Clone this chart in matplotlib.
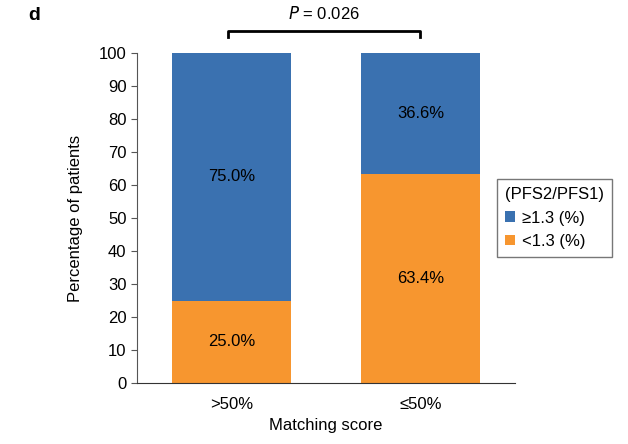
import matplotlib.pyplot as plt

plt.rcParams['font.family'] = ['Liberation Sans', 'DejaVu Sans']

groups = ['>50%', '≤50%']
high = [75.0, 36.6]   # PFS2/PFS1 >= 1.3
low = [25.0, 63.4]    # PFS2/PFS1 < 1.3
series_names = ['≥1.3 (%)', '<1.3 (%)']
p_text = '$\\it{P}$ = 0.026'

blue = '#3a71b0'
orange = '#f7962f'
fs = 12

fig = plt.figure(figsize=(6.28, 4.44), dpi=100)
ax = fig.add_axes([0.218, 0.137, 0.602, 0.744])

x = list(range(len(groups)))
width = 0.63
b_low = ax.bar(x, low, width, color=orange, label=series_names[1])
b_high = ax.bar(x, high, width, bottom=low, color=blue, label=series_names[0])

for i in x:
    ax.text(i, low[i] / 2, f'{low[i]:.1f}%', ha='center', va='center', fontsize=fs)
    ax.text(i, low[i] + high[i] / 2, f'{high[i]:.1f}%', ha='center', va='center', fontsize=fs)

ax.set_xlim(-0.5, 1.5)
ax.set_ylim(0, 100)
ax.set_yticks(range(0, 101, 10))
ax.set_xticks(x)
ax.set_xticklabels(groups, fontsize=fs)
ax.tick_params(axis='x', length=0, pad=10)
ax.tick_params(axis='y', labelsize=fs, length=4, direction='out', color='#555555')
ax.spines['top'].set_visible(False)
ax.spines['right'].set_visible(False)
ax.spines['left'].set_color('#555555')
ax.spines['bottom'].set_color('#333333')
ax.set_ylabel('Percentage of patients', fontsize=fs, labelpad=11)
ax.set_xlabel('Matching score', fontsize=fs, labelpad=4)

# significance bracket
yb = 106.5
ax.plot([-0.02, -0.02, 1.0, 1.0], [yb - 1.8, yb, yb, yb - 1.8], color='black', lw=2, clip_on=False)
ax.text(0.49, yb + 2.8, p_text, ha='center', va='bottom', fontsize=fs)

fig.text(0.045, 0.965, 'd', fontsize=14, fontweight='bold', va='center')

leg = ax.legend(handles=[b_high, b_low], title='(PFS2/PFS1)', loc='upper left',
                bbox_to_anchor=(0.791, 0.597), bbox_transform=fig.transFigure,
                fontsize=fs, title_fontsize=fs, fancybox=False, edgecolor='#555555',
                handlelength=0.6, handleheight=0.6, handletextpad=0.4,
                borderpad=0.5, labelspacing=0.5, borderaxespad=0)
leg.get_frame().set_linewidth(1.0)
leg._legend_box.align = 'left'

fig.savefig('out.png', dpi=100)
